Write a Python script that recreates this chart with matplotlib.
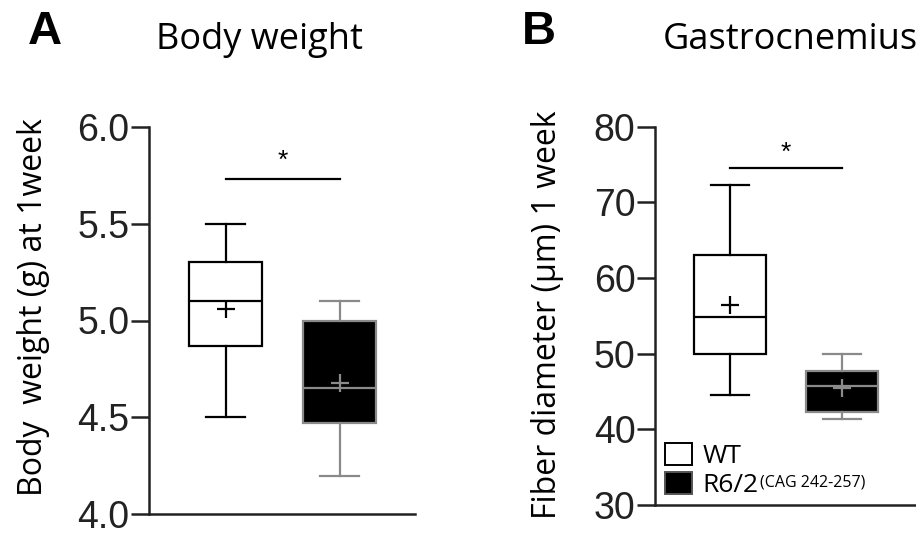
import matplotlib
matplotlib.use("Agg")
import matplotlib.pyplot as plt
from matplotlib.patches import Patch

groups = ["WT", "R6/2"]
bw_whislo = [4.5, 4.2]
bw_q1 = [4.87, 4.47]
bw_med = [5.1, 4.65]
bw_q3 = [5.3, 5.0]
bw_whishi = [5.5, 5.1]
bw_mean = [5.06, 4.68]

fd_whislo = [44.6, 41.4]
fd_q1 = [50.0, 42.3]
fd_med = [54.9, 45.7]
fd_q3 = [63.1, 47.7]
fd_whishi = [72.3, 50.0]
fd_mean = [56.4, 45.5]

bw_ticks = [4.0, 4.5, 5.0, 5.5, 6.0]
fd_ticks = [30, 40, 50, 60, 70, 80]

W, H = 916, 546
fig = plt.figure(figsize=(W / 100, H / 100), dpi=100)

def px_axes(x0, x1, ytop, ybot):
    return fig.add_axes([x0 / W, (H - ybot) / H, (x1 - x0) / W, (ybot - ytop) / H])

axA = px_axes(149, 415, 126.7, 514.3)
axB = px_axes(655, 916, 126.7, 505)

fills = ["white", "black"]
edges = ["black", "#8a8a8a"]

def draw(ax, lo, q1, med, q3, hi, mean):
    for i in range(2):
        st = [dict(whislo=lo[i], q1=q1[i], med=med[i], q3=q3[i], whishi=hi[i], mean=mean[i])]
        ec = edges[i]
        ax.bxp(st, positions=[i + 1], widths=0.64, patch_artist=True, showmeans=True,
               showfliers=False,
               boxprops=dict(facecolor=fills[i], edgecolor=ec, linewidth=1.6),
               medianprops=dict(color=ec, linewidth=1.6),
               whiskerprops=dict(color=ec, linewidth=1.6),
               capprops=dict(color=ec, linewidth=1.6),
               capwidths=0.34,
               meanprops=dict(marker='+', markeredgecolor=ec, markersize=13, markeredgewidth=1.6))

draw(axA, bw_whislo, bw_q1, bw_med, bw_q3, bw_whishi, bw_mean)
draw(axB, fd_whislo, fd_q1, fd_med, fd_q3, fd_whishi, fd_mean)

tickfont = dict(family='Liberation Sans', size=27)
for ax, ticks, fmt in [(axA, bw_ticks, "{:.1f}"), (axB, fd_ticks, "{:d}")]:
    ax.set_xlim(0.327, 2.66)
    ax.set_ylim(ticks[0], ticks[-1])
    ax.set_yticks(ticks)
    ax.set_yticklabels([fmt.format(t) for t in ticks], fontdict=tickfont, color='#222222')
    ax.set_xticks([])
    for s in ['top', 'right']:
        ax.spines[s].set_visible(False)
    for s in ['left', 'bottom']:
        ax.spines[s].set_linewidth(1.8)
        ax.spines[s].set_color('#222222')
    ax.tick_params(axis='y', direction='out', length=13, width=1.8, pad=1, color='#222222')
    ax.patch.set_alpha(0)

# significance bars
axA.plot([1, 2], [5.73, 5.73], color='black', lw=1.6)
axA.text(1.5, 5.76, "*", ha='center', va='bottom', fontsize=19, family='Liberation Sans')
axB.plot([1, 2], [74.5, 74.5], color='black', lw=1.6)
axB.text(1.5, 74.9, "*", ha='center', va='bottom', fontsize=19, family='Liberation Sans')

labfont = dict(family='Open Sans', size=23)
axA.set_ylabel("Body  weight (g) at 1week", fontdict=labfont, va='center')
axB.set_ylabel("Fiber diameter (µm) 1 week", fontdict=labfont, va='center')
axA.yaxis.set_label_coords((34 - 149) / 266, (514.3 - 307) / 387.6)
axB.yaxis.set_label_coords((547 - 655) / 261, (505 - 315) / 378.3)

# titles and panel letters
fig.text(259 / W, 1 - 40 / H, "Body weight", ha='center', va='center', family='Open Sans', fontsize=26)
fig.text(790 / W, 1 - 40 / H, "Gastrocnemius", ha='center', va='center', family='Open Sans', fontsize=26)
fig.text(45 / W, 1 - 32 / H, "A", ha='center', va='center', family='Liberation Sans', fontweight='bold', fontsize=34)
fig.text(539 / W, 1 - 32 / H, "B", ha='center', va='center', family='Liberation Sans', fontweight='bold', fontsize=34)

handles = [Patch(facecolor='white', edgecolor='black', linewidth=1.4),
           Patch(facecolor='black', edgecolor='#555555', linewidth=1.4)]
labels = ["WT", "R6/2"]
leg = axB.legend(handles, labels, loc='lower left', bbox_to_anchor=(0.03, 0.012),
                 frameon=False, prop=dict(family='Open Sans', size=19),
                 handlelength=1.0, handleheight=0.9, handletextpad=0.4, labelspacing=0.1,
                 borderaxespad=0.0, borderpad=0.1)
axB.annotate("(CAG 242-257)", xy=(1.0, 0.95), xycoords=leg.get_texts()[1],
             xytext=(1, 0), textcoords='offset points', ha='left', va='top',
             family='Open Sans', fontsize=11.5, annotation_clip=False, zorder=10)

fig.canvas.draw()
fig.savefig("out.png", dpi=100)
